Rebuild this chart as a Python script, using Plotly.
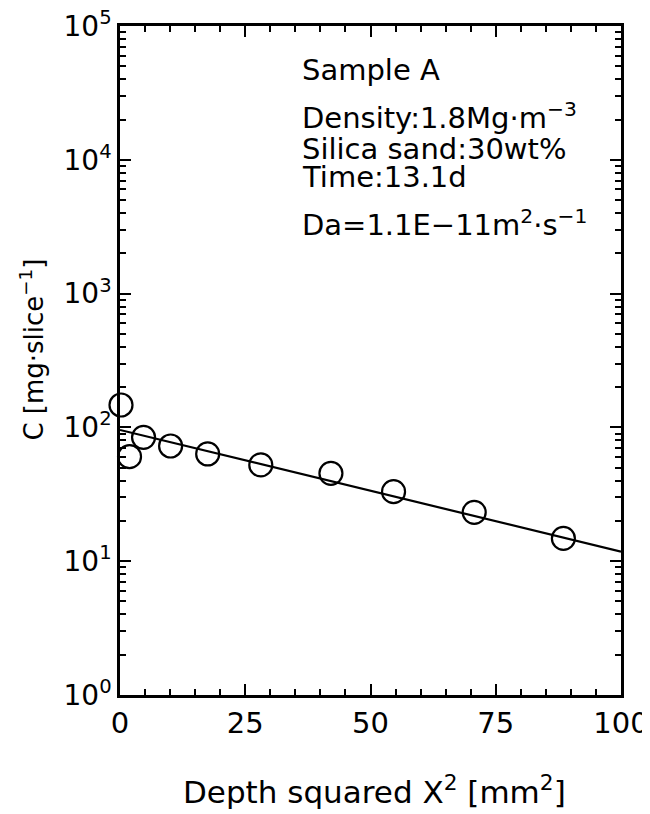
import plotly.graph_objects as go

# Data
depth_sq = [0.2, 1.9, 4.7, 10.1, 17.5, 28.1, 42.1, 54.6, 70.7, 88.5]
conc = [147, 60.4, 84.3, 72.6, 63.3, 52.4, 45.4, 33.1, 23.2, 14.8]
fit_x = [0, 100]
fit_y = [95.7, 11.8]

x_ticks = [0, 25, 50, 75, 100]
x_minor = [v for v in range(0, 101, 5) if v % 25 != 0]
y_ticks = [1, 10, 100, 1000, 10000, 100000]
y_ticktext = ["10<sup>0</sup>", "10<sup>1</sup>", "10<sup>2</sup>", "10<sup>3</sup>",
              "10<sup>4</sup>", "10<sup>5</sup>"]
y_minor = [m * 10 ** e for e in range(0, 5) for m in range(2, 10)]

info_lines = [
    ("Sample A", 0.934),
    ("Density:1.8Mg·m<sup>−3</sup>", 0.865),
    ("Silica sand:30wt%", 0.816),
    ("Time:13.1d", 0.774),
    ("Da=1.1E−11m<sup>2</sup>·s<sup>−1</sup>", 0.706),
]
x_title = "Depth squared X<sup>2</sup> [mm<sup>2</sup>]"
y_title = "C [mg·slice<sup>−1</sup>]"

FONT = "DejaVu Sans"

fig = go.Figure()
fig.add_trace(go.Scatter(x=fit_x, y=fit_y, mode="lines",
                         line=dict(color="black", width=2.2), showlegend=False))
fig.add_trace(go.Scatter(x=depth_sq, y=conc, mode="markers",
                         marker=dict(symbol="circle-open", size=23, color="black",
                                     line=dict(width=2.2, color="black")),
                         showlegend=False, cliponaxis=False))
# invisible traces so the tick overlay axes are drawn
for ax in ("2", "3"):
    fig.add_trace(go.Scatter(x=fit_x, y=fit_y, xaxis="x" + ax, yaxis="y" + ax,
                             mode="lines", line=dict(width=0), opacity=0,
                             showlegend=False, hoverinfo="skip"))

for txt, yp in info_lines:
    fig.add_annotation(text=txt, xref="paper", yref="paper", x=0.36, y=yp,
                       xanchor="left", yanchor="middle", showarrow=False,
                       font=dict(family=FONT, size=29, color="black"))

fig.add_annotation(text=x_title, xref="paper", yref="paper", x=0.507, y=-0.142,
                   xanchor="center", yanchor="middle", showarrow=False,
                   font=dict(family=FONT, size=31, color="black"))
fig.add_annotation(text=y_title, xref="paper", yref="paper", x=-0.176, y=0.516,
                   xanchor="center", yanchor="middle", showarrow=False, textangle=-90,
                   font=dict(family=FONT, size=26, color="black"))

common = dict(tickcolor="black", tickwidth=2, showline=True,
              linecolor="black", linewidth=2.5, showgrid=False,
              zeroline=False, automargin=False)
tickonly = dict(ticks="inside", mirror="allticks", showticklabels=False, **common)

fig.update_layout(
    width=642, height=806, plot_bgcolor="white", paper_bgcolor="white",
    margin=dict(l=112, r=29, t=18, b=119),
    xaxis=dict(range=[0, 100], tickmode="array", tickvals=x_ticks, ticks="",
               mirror=True, ticklabeloverflow="allow",
               tickfont=dict(family=FONT, size=29, color="black"), **common),
    yaxis=dict(type="log", range=[0, 5], tickmode="array", tickvals=y_ticks,
               ticktext=y_ticktext, ticks="", mirror=True, ticklabeloverflow="allow",
               tickfont=dict(family=FONT, size=28, color="black"), **common),
    xaxis2=dict(range=[0, 100], overlaying="x", anchor="y2", side="bottom",
                tickmode="array", tickvals=x_minor, ticklen=6, **tickonly),
    yaxis2=dict(type="log", range=[0, 5], overlaying="y", anchor="x2", side="left",
                tickmode="array", tickvals=y_minor, ticklen=6, **tickonly),
    xaxis3=dict(range=[0, 100], overlaying="x", anchor="y3", side="bottom",
                tickmode="array", tickvals=x_ticks, ticklen=11, **tickonly),
    yaxis3=dict(type="log", range=[0, 5], overlaying="y", anchor="x3", side="left",
                tickmode="array", tickvals=y_ticks, ticklen=11, **tickonly),
)

fig.write_html("out.html")
